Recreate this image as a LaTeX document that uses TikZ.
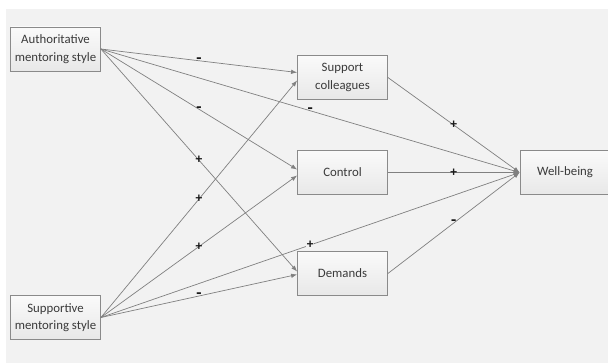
\documentclass[tikz,border=0pt]{standalone}
\usepackage{fontspec}
\setmainfont{Carlito}
\usetikzlibrary{arrows.meta}
\definecolor{bgfill}{HTML}{F2F2F2}
\definecolor{linegray}{HTML}{808080}
\definecolor{boxline}{HTML}{8A8A8A}
\definecolor{textgray}{HTML}{3A3A3A}
\tikzset{
  box/.style={draw=boxline, line width=0.8pt, top color=gray!4, bottom color=gray!18,
    minimum width=90pt, minimum height=44pt, inner sep=2pt, align=center,
    text=textgray, font=\fontsize{12.8}{17.5}\selectfont},
  link/.style={draw=linegray, line width=0.7pt, -{Latex[length=6pt,width=4.5pt]}},
  sign/.style={font=\bfseries\fontsize{13.5}{13.5}\selectfont, text=black!90, inner sep=0.6pt},
  negsign/.style={sign, font=\bfseries\fontsize{17}{17}\selectfont}
}

\begin{document}
\begin{tikzpicture}[x=1pt,y=-1pt]
            \useasboundingbox (0,0) rectangle (608,363);
            \fill[bgfill] (6,9) rectangle (608,363);

            % boxes
            \node[box] (auth) at (55.5,49) {Authoritative\\mentoring style};
            \node[box] (supp) at (55.5,317.5) {Supportive\\mentoring style};
            \node[box] (sc) at (342.5,77.5) {Support\\colleagues};
            \node[box] (ctrl) at (342.5,172.5) {Control};
            \node[box] (dem) at (342.5,273.5) {Demands};
            \node[box] (wb) at (565,172.5) {Well-being};

            % paths from authoritative style
            \draw[link] (auth.east) -- node[negsign] {-} ([yshift=5pt]sc.west);
            \draw[link] (auth.east) -- node[negsign] {-} ([yshift=3pt]ctrl.west);
            \draw[link] (auth.east) -- node[sign] {+} ([yshift=2pt]dem.west);
            \draw[link] (auth.east) -- node[negsign] {-} (wb.west);

            % paths from supportive style
            \draw[link] (supp.east) -- node[sign] {+} ([yshift=-3pt]sc.west);
            \draw[link] (supp.east) -- node[sign] {+} ([yshift=-3pt]ctrl.west);
            \draw[link] (supp.east) -- node[negsign] {-} ([yshift=-1pt]dem.west);
            \draw[link] (supp.east) -- node[sign, fill=bgfill] {+} (wb.west);

            % mediators to well-being
            \draw[link] (sc.east) -- node[sign] {+} (wb.west);
            \draw[link] (ctrl.east) -- node[sign] {+} (wb.west);
            \draw[link] (dem.east) -- node[negsign] {-} (wb.west);
        \end{tikzpicture}
\end{document}
